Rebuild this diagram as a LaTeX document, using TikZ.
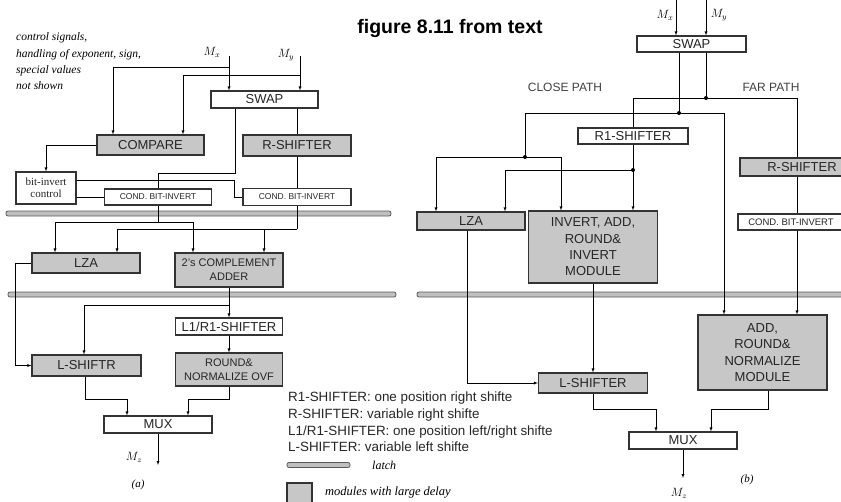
\documentclass[tikz,border=0pt]{standalone}
\usepackage{fontspec}
\setmainfont{Liberation Serif}
\setsansfont{Liberation Sans}
\usetikzlibrary{arrows.meta,calc,backgrounds}

\tikzset{
  blk/.style={draw=black!80, line width=1.1pt, fill=white, inner sep=0pt, align=center,
    text=black!85, font=\sffamily\fontsize{13}{16.3}\selectfont},
  slow/.style={blk, fill=black!22},
  sz/.style 2 args={minimum width=#1, minimum height=#2},
  latch/.style={draw=black!65, fill=black!25, line width=0.8pt, rounded corners=2pt,
    inner sep=0pt, minimum height=5},
  lab/.style={inner sep=0pt, font=\fontsize{12}{14}\selectfont},
  note/.style={inner sep=0pt, align=left, font=\itshape\fontsize{11.5}{16.3}\selectfont},
  pathlab/.style={inner sep=0pt, text=black!75, font=\sffamily\fontsize{12}{14}\selectfont}
}

\begin{document}
\begin{tikzpicture}[x=1pt, y=-1pt]
\useasboundingbox (0,0) rectangle (841,501);
\clip (0,0) rectangle (841,501);
% (a) blocchi
\node[blk, sz={107}{17}] (swapA) at (264.5,99.5) {SWAP};
\node[slow, sz={107}{20}] (cmpA) at (150.5,145) {COMPARE};
\node[slow, sz={108}{21}] (rshA) at (297,145.5) {R-SHIFTER};
\node[blk, sz={60}{32}, font=\rmfamily\fontsize{11}{12}\selectfont] (bicA) at (46,188) {bit-invert\\control};
\node[blk, sz={107}{16}, font=\sffamily\fontsize{8.5}{10}\selectfont] (cbiA1) at (158,197) {COND. BIT-INVERT};
\node[blk, sz={108}{17}, font=\sffamily\fontsize{8.5}{10}\selectfont] (cbiA2) at (297,197) {COND. BIT-INVERT};
\node[slow, sz={108}{20}] (lzaA) at (86,263) {LZA};
\node[slow, sz={108}{34}, font=\sffamily\fontsize{11}{14}\selectfont] (addA) at (229,270) {2's COMPLEMENT\\ADDER};
\node[blk, sz={107}{17}] (l1r1A) at (229,326.5) {L1/R1-SHIFTER};
\node[slow, sz={109}{21}] (lshA) at (86.5,365.5) {L-SHIFTR};
\node[slow, sz={107}{33}, font=\sffamily\fontsize{11}{14}\selectfont] (rndA) at (229,369.5) {ROUND\&\\NORMALIZE OVF};
\node[blk, sz={108}{17}] (muxA) at (158,424.5) {MUX};
% (b) blocchi
\node[blk, sz={109}{16}] (swapB) at (691.5,44) {SWAP};
\node[blk, sz={110}{16}] (r1B) at (633,136) {R1-SHIFTER};
\node[slow, sz={124}{18}] (rshB) at (802,167) {R-SHIFTER};
\node[blk, sz={106}{16}, font=\sffamily\fontsize{9.5}{11}\selectfont] (cbiB) at (791,222) {COND. BIT-INVERT};
\node[slow, sz={108}{18}] (lzaB) at (471,221) {LZA};
\node[slow, sz={129}{72}] (invB) at (593,247) {INVERT, ADD,\\ROUND\&\\INVERT\\MODULE};
\node[slow, sz={109}{20}] (lshB) at (593,383) {L-SHIFTER};
\node[slow, sz={129}{75}] (addB) at (762.5,352.5) {ADD,\\ROUND\&\\NORMALIZE\\MODULE};
\node[blk, sz={108}{17}] (muxB) at (683,440.5) {MUX};
% etichette
\node[inner sep=0pt, anchor=base, font=\sffamily\bfseries\fontsize{19.5}{22}\selectfont] (title) at (450,33) {figure 8.11 from text};
\node[note, anchor=west] (ctrl) at (16,61.5) {control signals,\\handling of exponent, sign,\\special values\\not shown};
\node[pathlab] (close) at (565,87) {CLOSE PATH};
\node[pathlab] (far) at (771,87) {FAR PATH};
\node[lab] (mxAl) at (212,52) {$M_x$};
\node[lab] (myAl) at (286,55) {$M_y$};
\node[lab] (mxBl) at (665,15) {$M_x$};
\node[lab] (myBl) at (719,15) {$M_y$};
\node[lab] (mzAl) at (134,457) {$M_z$};
\node[lab] (mzBl) at (679,493) {$M_z$};
\node[note, font=\itshape\fontsize{11}{12}\selectfont] (capA) at (138,485) {(a)};
\node[note, font=\itshape\fontsize{11}{12}\selectfont] (capB) at (747,480) {(b)};
% legenda
\node[inner sep=0pt, anchor=west, align=left, text=black!85,
  font=\sffamily\fontsize{13.4}{16.7}\selectfont] (legend) at (288,422)
  {R1-SHIFTER: one position right shifte\\R-SHIFTER: variable right shifte\\L1/R1-SHIFTER: one position left/right shifte\\L-SHIFTER: variable left shifte};
\node[latch, minimum width=63] (latL) at (318.5,465) {};
\node[note, anchor=west, font=\itshape\fontsize{12}{14}\selectfont] (latT) at (372,465) {latch};
\node[slow, sz={25}{22}] (slowL) at (299.5,494) {};
\node[note, anchor=west, font=\itshape\fontsize{12.5}{14}\selectfont] (slowT) at (325,493) {modules with large delay};

\begin{scope}[on background layer, line width=1.1pt, color=black!75]
\clip (0,0) rectangle (841,501);
% latch
\node[latch, minimum width=385] (latA1) at (198.5,213.5) {};
\node[latch, minimum width=388] (latA2) at (202,294.5) {};
\node[latch, minimum width=429] (latB) at (631.5,294.5) {};
% (a) collegamenti
\coordinate (mxA) at (229,56);
\coordinate (myA) at (300,56);
\coordinate (tapA1) at (229,67);
\coordinate (tapA2) at (300,75);
\draw[-latex] (mxA) -- (mxA |- swapA.north);
\draw[-latex] (myA) -- (myA |- swapA.north);
\draw[-latex] (tapA1) -| ([xshift=-37.5pt]cmpA.north);
\draw[-latex] (tapA2) -| ([xshift=32.5pt]cmpA.north);
\coordinate (jA1) at (158,173);
\draw ([xshift=-29.5pt]swapA.south) |- (jA1) -- (cbiA1.north);
\draw ([xshift=32.5pt]swapA.south) -- (rshA.north);
\draw (rshA.south) -- (cbiA2.north);
\draw[-latex] (cmpA.west) -| (bicA.north);
\coordinate (jA4) at (234,197);
\draw ([yshift=8pt]bicA.east) -| (jA4) -- (cbiA2.west);
\draw ([yshift=-9pt]bicA.east) -- (cbiA1.west);
\coordinate (jA2) at (158,222);
\coordinate (jA3) at (297,229);
\draw (cbiA1.south) -- (jA2);
\draw[-latex] (jA2) -| ([xshift=-31pt]lzaA.north);
\draw[-latex] (jA2) -| ([xshift=-36pt]addA.north);
\draw (cbiA2.south) -- (jA3);
\draw[-latex] (jA3) -| ([xshift=31pt]lzaA.north);
\draw[-latex] (jA3) -| ([xshift=35pt]addA.north);
\coordinate (jA5) at (15,263);
\draw[-latex] (lzaA.west) -- (jA5) |- (lshA.west);
\coordinate (jA6) at (229,305);
\draw[-latex] (addA.south) -- (l1r1A.north);
\draw[-latex] (jA6) -| ([xshift=-2.5pt]lshA.north);
\draw[-latex] (l1r1A.south) -- (rndA.north);
\coordinate (jA7) at (127,399);
\coordinate (jA8) at (188,399);
\draw[-latex] ([xshift=-1.5pt]lshA.south) |- (jA7) -- (jA7 |- muxA.north);
\draw[-latex] (rndA.south) |- (jA8) -- (jA8 |- muxA.north);
\coordinate (mzA) at (158,465);
\draw[-latex] (muxA.south) -- (mzA);
% (b) collegamenti
\coordinate (mxB) at (676,0);
\coordinate (myB) at (706,0);
\draw[-latex] (mxB) -- (mxB |- swapB.north);
\draw[-latex] (myB) -- (myB |- swapB.north);
\coordinate (dB1) at (679,113);
\coordinate (dB2) at (706,98);
\draw ([xshift=-12.5pt]swapB.south) -- (dB1);
\draw ([xshift=14.5pt]swapB.south) -- (dB2);
\coordinate (jB1) at (633,98);
\coordinate (jB2) at (797,98);
\draw (jB1) -- (jB2);
\draw (jB1) -- (r1B.north);
\draw (jB2) -- (jB2 |- rshB.north);
\draw (jB2 |- rshB.south) -- (jB2 |- cbiB.north);
\draw[-latex] (jB2 |- cbiB.south) -- (jB2 |- addB.north);
\coordinate (jB3) at (525,113);
\coordinate (jB4) at (724,113);
\coordinate (jB5) at (525,157);
\draw (jB3) -- (jB4);
\draw[-latex] (jB4) -- (jB4 |- addB.north);
\draw (jB3) -- (jB5);
\draw[-latex] (jB5) -| ([xshift=-35pt]lzaB.north);
\draw[-latex] (jB5) -| ([xshift=-32pt]invB.north);
\coordinate (jB6) at (633,170);
\draw (r1B.south) -- (jB6);
\draw[-latex] (jB6) -- (jB6 |- invB.north);
\draw[-latex] (jB6) -| ([xshift=34pt]lzaB.north);
\coordinate (jB7) at (467,383);
\draw[-latex] ([xshift=-4pt]lzaB.south) -- (jB7) -- (lshB.west);
\draw[-latex] (invB.south) -- (lshB.north);
\coordinate (jB8) at (656,409);
\coordinate (jB9) at (711,409);
\draw[-latex] (lshB.south) |- (jB8) -- (jB8 |- muxB.north);
\draw[-latex] ([xshift=5.5pt]addB.south) |- (jB9) -- (jB9 |- muxB.north);
\coordinate (mzB) at (683,478);
\draw[-latex] (muxB.south) -- (mzB);
\foreach \d in {dB1,dB2,jB5,jB6} \fill (\d) circle (2pt);
\end{scope}
\end{tikzpicture}
\end{document}
